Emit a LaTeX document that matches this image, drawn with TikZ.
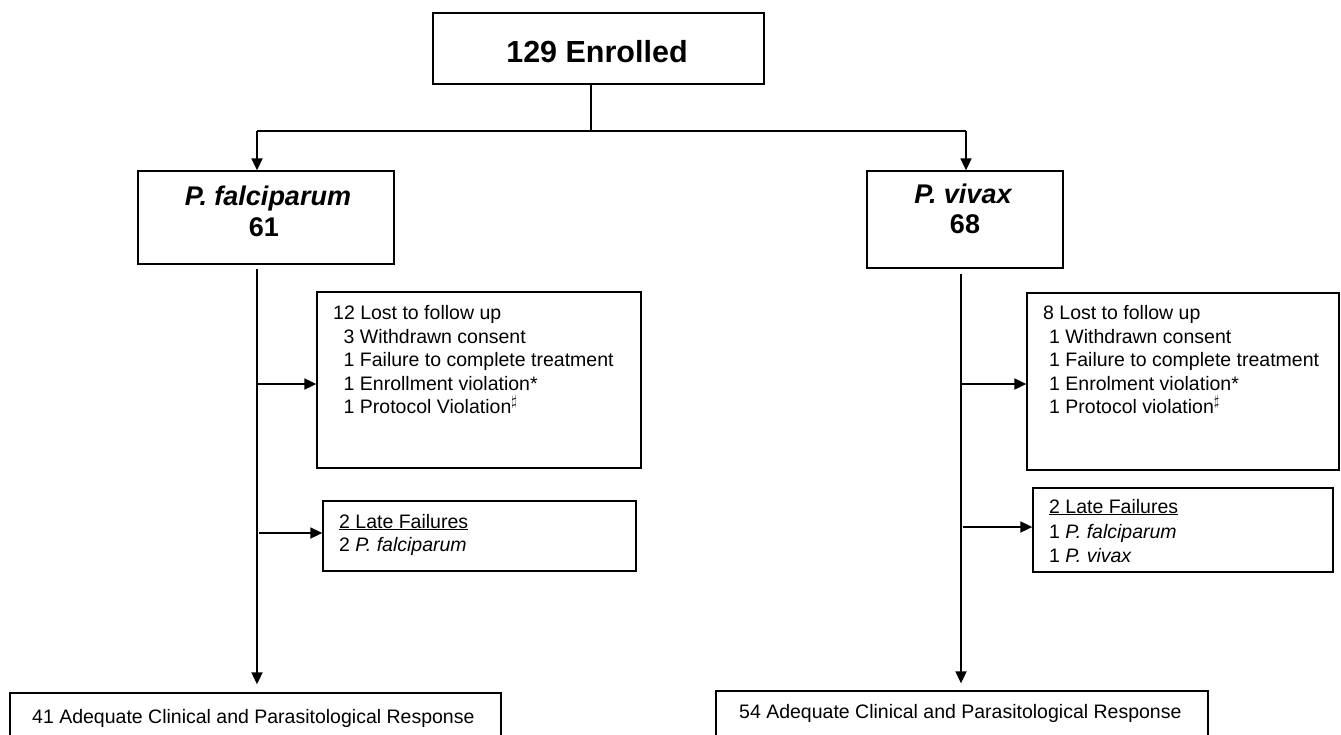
\documentclass[tikz,border=0pt]{standalone}
\usepackage{fontspec}
\setmainfont{Liberation Sans}
\usetikzlibrary{arrows.meta}
\begin{document}
\begin{tikzpicture}[x=1pt,y=-1pt,
  box/.style={draw, line width=1.3pt, inner sep=0pt},
  ln/.style={line width=1.8pt},
  arr/.style={line width=1.8pt, -{Triangle[length=12pt,width=11pt]}},
  txt/.style={inner sep=0pt, anchor=base west, font=\fontsize{19.5}{24}\selectfont},
  big/.style={inner sep=0pt, anchor=base, font=\fontsize{27}{31}\selectfont\bfseries},
  title/.style={inner sep=0pt, anchor=base, font=\fontsize{30.5}{34}\selectfont\bfseries}]
\clip (0,0) rectangle (1341,734);
\fill[white] (0,0) rectangle (1341,734);

% boxes
\node[box, minimum width=331pt, minimum height=71pt] (enr) at (598.5,48.5) {};
\node[box, minimum width=256pt, minimum height=93pt] (pf) at (266,217.5) {};
\node[box, minimum width=196pt, minimum height=97pt] (pv) at (965,219.5) {};
\node[box, minimum width=324pt, minimum height=176pt] (lostl) at (479,380) {};
\node[box, minimum width=313pt, minimum height=70pt] (latel) at (479.5,536) {};
\node[box, minimum width=312pt, minimum height=177pt] (lostr) at (1183,381.5) {};
\node[box, minimum width=300pt, minimum height=84pt] (later) at (1183,530) {};
\node[box, minimum width=491pt, minimum height=77pt] (acl) at (255.5,731.5) {};
\node[box, minimum width=492pt, minimum height=79pt] (acr) at (962,730.5) {};

% texts
\node[title] (tenr) at (597,62) {129 Enrolled};
\node[big] (tpf1) at (268,205) {\itshape P. falciparum};
\node[big] (tpf2) at (264,236) {61};
\node[big] (tpv1) at (963,203) {\itshape P. vivax};
\node[big] (tpv2) at (965,233) {68};

\node[txt] (ll1) at (333,319) {12 Lost to follow up};
\node[txt] (ll2) at (333,343) {\hspace{10.5pt}3 Withdrawn consent};
\node[txt] (ll3) at (333,366) {\hspace{10.5pt}1 Failure to complete treatment};
\node[txt] (ll4) at (333,390) {\hspace{10.5pt}1 Enrollment violation*};
\node[txt] (ll5) at (333,413) {\hspace{10.5pt}1 Protocol Violation$^\sharp$};

\node[txt] (fl1) at (339,528) {\underline{2 Late Failures}};
\node[txt] (fl2) at (339,551) {2 \itshape P. falciparum};

\node[txt] (lr1) at (1043,319) {8 Lost to follow up};
\node[txt] (lr2) at (1043,343) {\hspace{6pt}1 Withdrawn consent};
\node[txt] (lr3) at (1043,366) {\hspace{6pt}1 Failure to complete treatment};
\node[txt] (lr4) at (1043,390) {\hspace{6pt}1 Enrolment violation*};
\node[txt] (lr5) at (1043,413) {\hspace{6pt}1 Protocol violation$^\sharp$};

\node[txt] (fr1) at (1049,513) {\underline{2 Late Failures}};
\node[txt] (fr2) at (1049,538) {1 \itshape P. falciparum};
\node[txt] (fr3) at (1049,562) {1 \itshape P. vivax};

\node[txt] (tal) at (32,723) {41 Adequate Clinical and Parasitological Response};
\node[txt] (tar) at (739,718) {54 Adequate Clinical and Parasitological Response};

% connectors
\coordinate (j) at (591,131);
\coordinate (jl) at (257,131);
\coordinate (jr) at (966,131);
\coordinate (lx) at (257,0);
\coordinate (rx) at (961,0);
\coordinate (a1) at (257,384);
\coordinate (a2) at (259,533);
\coordinate (a3) at (961,384);
\coordinate (a4) at (963,527);

\draw[ln] (enr.south -| j) -- (j);
\draw[ln] (jl) -- (jr);
\draw[arr] (jl) -- (pf.north -| jl);
\draw[arr] (jr) -- (pv.north -| jr);
\draw[arr, shorten <=4pt, shorten >=8pt] (pf.south -| lx) -- (acl.north -| lx);
\draw[arr, shorten <=5pt, shorten >=7pt] (pv.south -| rx) -- (acr.north -| rx);
\draw[arr] (a1) -- (lostl.west |- a1);
\draw[arr] (a2) -- (latel.west |- a2);
\draw[arr] (a3) -- (lostr.west |- a3);
\draw[arr] (a4) -- (later.west |- a4);
\end{tikzpicture}
\end{document}
